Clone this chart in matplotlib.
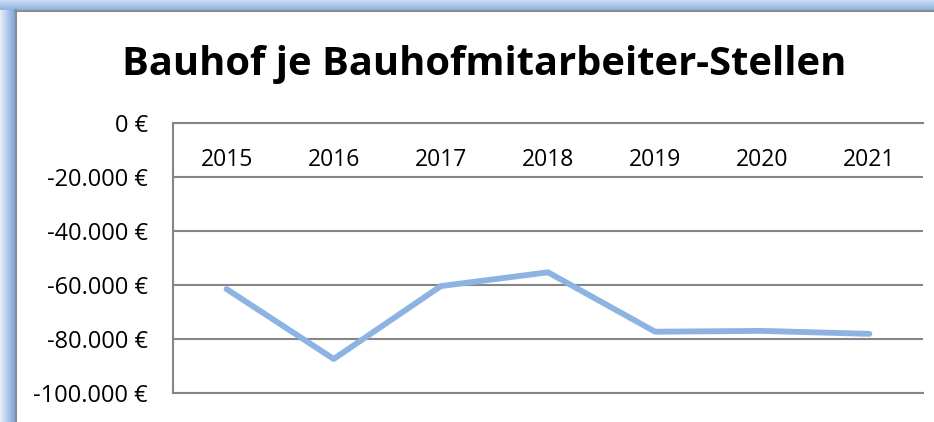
import matplotlib.pyplot as plt
import numpy as np
from matplotlib.ticker import FuncFormatter

years = ['2015', '2016', '2017', '2018', '2019', '2020', '2021']
werte = [-61500, -87400, -60400, -55300, -77300, -77000, -78100]
y_ticks = [0, -20000, -40000, -60000, -80000, -100000]

plt.rcParams['font.family'] = ['Open Sans', 'DejaVu Sans']

fig = plt.figure(figsize=(9.34, 4.22), dpi=100)
W, H = 934, 422

# Rahmen mit blauem Verlauf links und oben
bg = fig.add_axes([0, 0, 1, 1])
bg.set_xlim(0, W)
bg.set_ylim(H, 0)
bg.axis('off')
top_grad = np.linspace(0, 1, 10).reshape(-1, 1)
bg.imshow(top_grad, cmap=plt.matplotlib.colors.LinearSegmentedColormap.from_list(
    't', ['#c9dbf2', '#8fb3e3']), extent=(0, W, 10, 0), aspect='auto')
left_grad = np.linspace(0, 1, 15).reshape(1, -1)
bg.imshow(left_grad, cmap=plt.matplotlib.colors.LinearSegmentedColormap.from_list(
    'l', ['#e4edf9', '#7fa6d9']), extent=(0, 15, H, 10), aspect='auto')
bg.plot([15, W], [10.5, 10.5], color='#8c8c8c', lw=1.5)
bg.plot([15.5, 15.5], [10, H], color='#8c8c8c', lw=1.5)

fig.text(484 / W, 1 - 65 / H, 'Bauhof je Bauhofmitarbeiter-Stellen',
         ha='center', va='center', fontsize=28.7, fontweight='bold')

ax = fig.add_axes([173 / W, 1 - 393 / H, (923 - 173) / W, 270 / H])
x = np.arange(len(years))
ax.plot(x, werte, color='#8db3e2', lw=4.2, solid_capstyle='round')
ax.set_xlim(-0.5, len(years) - 0.5)
ax.set_ylim(-100000, 0)
ax.set_yticks(y_ticks)
ax.yaxis.set_major_formatter(FuncFormatter(lambda v, p: f"{int(v):,}".replace(',', '.') + ' €'))
ax.set_xticks(x)
ax.set_xticklabels(years)
ax.tick_params(axis='x', top=True, labeltop=True, bottom=False, labelbottom=False,
               length=0, pad=-35.5, labelsize=16.5)
ax.tick_params(axis='y', length=0, pad=18, labelsize=17)
ax.grid(axis='y', color='#868686', lw=1.5)
ax.set_axisbelow(True)
for s in ['top', 'bottom', 'left']:
    ax.spines[s].set_color('#868686')
    ax.spines[s].set_linewidth(1.5)
ax.spines['right'].set_visible(False)

fig.savefig('out.png', dpi=100)
